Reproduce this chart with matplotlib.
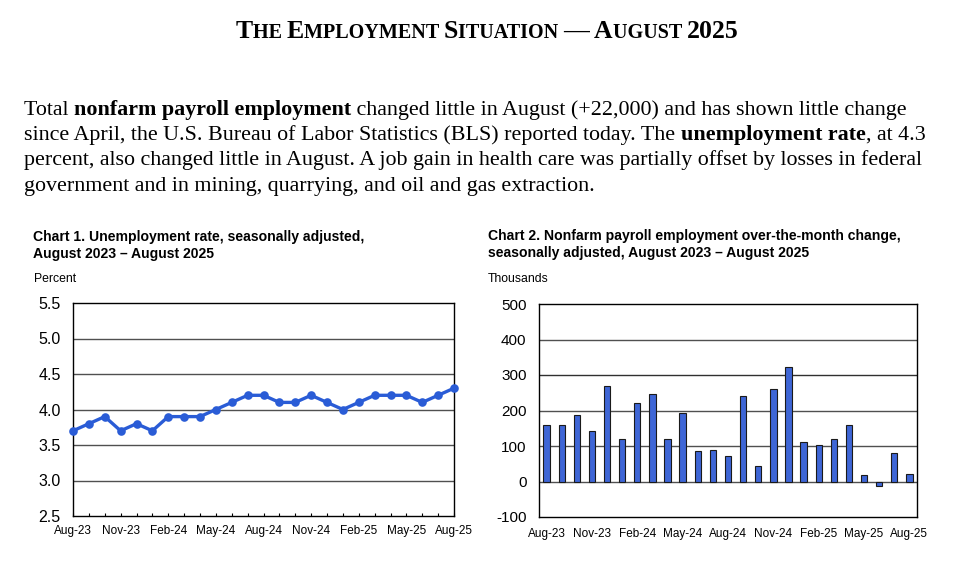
import matplotlib
matplotlib.use("Agg")
import matplotlib.pyplot as plt
import numpy as np

months = ["Aug-23", "Sep-23", "Oct-23", "Nov-23", "Dec-23", "Jan-24", "Feb-24", "Mar-24",
          "Apr-24", "May-24", "Jun-24", "Jul-24", "Aug-24", "Sep-24", "Oct-24", "Nov-24",
          "Dec-24", "Jan-25", "Feb-25", "Mar-25", "Apr-25", "May-25", "Jun-25", "Jul-25", "Aug-25"]
unemployment_rate = [3.7, 3.8, 3.9, 3.7, 3.8, 3.7, 3.9, 3.9, 3.9, 4.0, 4.1, 4.2, 4.2,
                     4.1, 4.1, 4.2, 4.1, 4.0, 4.1, 4.2, 4.2, 4.2, 4.1, 4.2, 4.3]
payroll_change = [158, 160, 187, 142, 270, 120, 222, 246, 120, 193, 87, 88, 71,
                  240, 44, 261, 323, 111, 102, 120, 158, 19, -13, 79, 22]
ur_ticks = [2.5, 3.0, 3.5, 4.0, 4.5, 5.0, 5.5]
pay_ticks = [-100, 0, 100, 200, 300, 400, 500]

W, H = 963, 567
fig = plt.figure(figsize=(W / 100, H / 100), dpi=100)
fig.patch.set_facecolor("white")
renderer = fig.canvas.get_renderer()

def px(x, y):
    return x / W, 1 - y / H

serif = "Liberation Serif"
sans = "Liberation Sans"

def meas(s, size, weight, family=serif):
    t = fig.text(0, 0, s + "|", fontsize=size, family=family, weight=weight)
    w1 = t.get_window_extent(renderer).width
    t.set_text("|")
    w2 = t.get_window_extent(renderer).width
    t.remove()
    return w1 - w2

# ---- Title in small caps ----
title_parts = [("T", 18.5), ("HE ", 14.5), ("E", 18.5), ("MPLOYMENT ", 14.5), ("S", 18.5),
               ("ITUATION ", 14.5), ("— A", 18.5), ("UGUST ", 14.5), ("2025", 18.5)]
widths = [meas(s, sz, "bold") for s, sz in title_parts]
total = sum(widths)
x = 487 - total / 2
for (s, sz), w in zip(title_parts, widths):
    fig.text(*px(x, 38), s, fontsize=sz, family=serif, weight="bold", va="baseline", ha="left")
    x += w

# ---- Paragraph ----
lines = [
    [("Total ", "normal"), ("nonfarm payroll employment", "bold"),
     (" changed little in August (+22,000) and has shown little change", "normal")],
    [("since April, the U.S. Bureau of Labor Statistics (BLS) reported today. The ", "normal"),
     ("unemployment rate", "bold"), (", at 4.3", "normal")],
    [("percent, also changed little in August. A job gain in health care was partially offset by losses in federal", "normal")],
    [("government and in mining, quarrying, and oil and gas extraction.", "normal")],
]
psize = 15.8
baselines = [115, 140, 165, 191]
for segs, yb in zip(lines, baselines):
    x = 24
    for s, wt in segs:
        fig.text(*px(x, yb), s, fontsize=psize, family=serif, weight=wt, va="baseline", ha="left")
        x += meas(s, psize, wt)

# ---- Chart 1 ----
csize = 10.1
fig.text(*px(33, 241), "Chart 1. Unemployment rate, seasonally adjusted,",
         fontsize=csize, family=sans, weight="bold", va="baseline", ha="left")
fig.text(*px(33, 258), "August 2023 – August 2025",
         fontsize=csize, family=sans, weight="bold", va="baseline", ha="left")
fig.text(*px(34, 282), "Percent", fontsize=8.8, family=sans, va="baseline", ha="left")

ax1 = fig.add_axes([73 / W, 1 - 516 / H, (454 - 73) / W, (516 - 303) / H])
x_idx = np.arange(len(months))
ax1.set_ylim(2.5, 5.5)
ax1.set_xlim(0, len(months) - 1)
ax1.set_yticks(ur_ticks)
ax1.set_yticklabels([f"{v:.1f}" for v in ur_ticks], fontsize=11.5, family=sans)
for v in ur_ticks[1:-1]:
    ax1.axhline(v, color="#505050", lw=1.0, zorder=1)
ax1.plot(x_idx, unemployment_rate, color="#2A5CD6", lw=2.4, marker="o", ms=6.2,
         markeredgewidth=0, zorder=3, clip_on=False)
ax1.set_xticks(x_idx[::3])
ax1.set_xticklabels(months[::3], fontsize=8.5, family=sans)
ax1.set_xticks(x_idx, minor=True)
ax1.tick_params(axis="x", which="both", direction="in", length=2.5, width=0.8, pad=6.5, top=False)
ax1.tick_params(axis="y", length=0, pad=9)
for sp in ax1.spines.values():
    sp.set_color("black")
    sp.set_linewidth(1.0)

# ---- Chart 2 ----
fig.text(*px(488, 240), "Chart 2. Nonfarm payroll employment over-the-month change,",
         fontsize=csize, family=sans, weight="bold", va="baseline", ha="left")
fig.text(*px(488, 257), "seasonally adjusted, August 2023 – August 2025",
         fontsize=csize, family=sans, weight="bold", va="baseline", ha="left")
fig.text(*px(488, 282), "Thousands", fontsize=8.8, family=sans, va="baseline", ha="left")

ax2 = fig.add_axes([539 / W, 1 - 517 / H, (917 - 539) / W, (517 - 304) / H])
ax2.set_ylim(-100, 500)
ax2.set_xlim(-0.5, len(months) - 0.5)
ax2.set_yticks(pay_ticks)
ax2.set_yticklabels([str(v) for v in pay_ticks], fontsize=11, family=sans)
for v in pay_ticks[1:-1]:
    ax2.axhline(v, color="#303030" if v == 300 else "#505050", lw=1.0, zorder=1)
ax2.bar(x_idx, payroll_change, width=0.42, color="#3E66D6", edgecolor="#1a1a1a", lw=0.8, zorder=3)
ax2.set_xticks(x_idx[::3])
ax2.set_xticklabels(months[::3], fontsize=8.5, family=sans)
ax2.tick_params(axis="x", length=0, pad=8)
ax2.tick_params(axis="y", length=0, pad=9)
for sp in ax2.spines.values():
    sp.set_color("black")
    sp.set_linewidth(1.0)

fig.savefig("out.png", dpi=100, facecolor="white")
